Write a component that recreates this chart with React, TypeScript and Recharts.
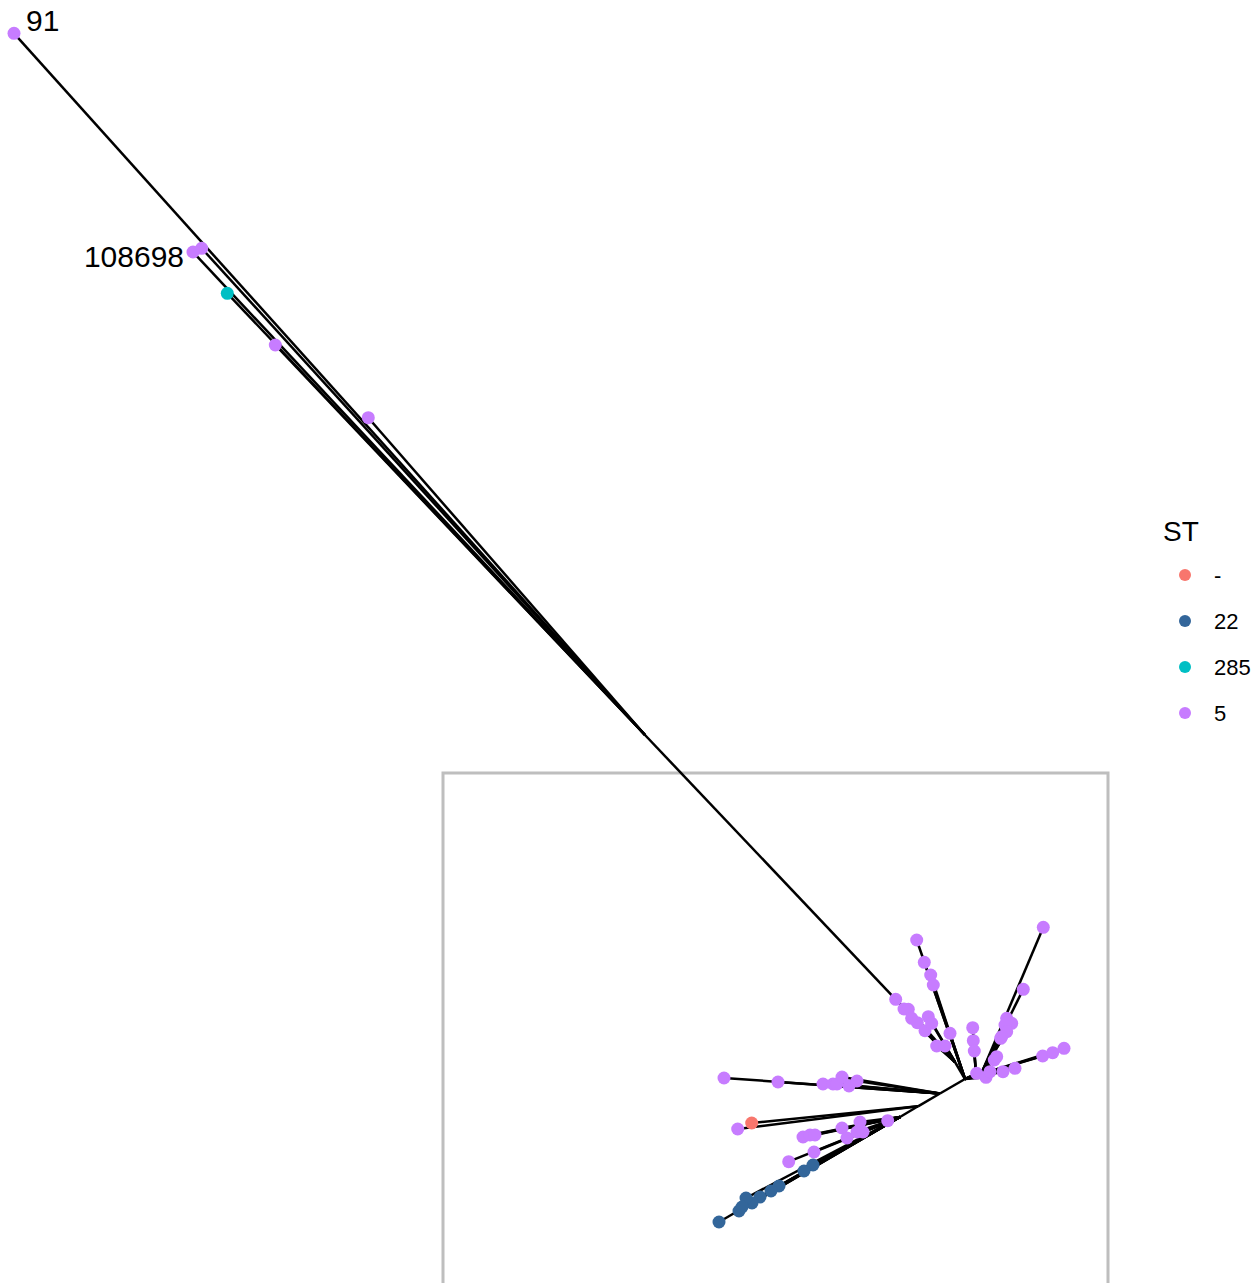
import React from 'react';
import { ScatterChart, Scatter, XAxis, YAxis, ReferenceArea, ReferenceLine, Legend } from 'recharts';

// tree layout coordinates (unrooted layout, y grows downward)
const internalNodes = [
  { id: 'H', x: 965, y: 1079 },
  { id: 'A', x: 645, y: 735 },
  { id: 'C', x: 955, y: 1062 },
  { id: 'V', x: 976, y: 1074 },
  { id: 'R1', x: 982, y: 1072 },
  { id: 'T1', x: 940, y: 1093.5 },
  { id: 'T2', x: 918, y: 1106.3 },
  { id: 'T3', x: 900, y: 1117 },
];

const internalEdges: [string, string][] = [
  ['H', 'C'], ['C', 'A'], ['H', 'V'], ['H', 'R1'], ['H', 'T1'], ['T1', 'T2'], ['T2', 'T3'],
];

type Tip = { x: number; y: number; st: string; parent: string; label?: string };

const farTips: Tip[] = [
  { x: 14, y: 33.3, st: '5', parent: 'A', label: '91' },
  { x: 193, y: 252, st: '5', parent: 'A', label: '108698' },
  { x: 201.7, y: 248.3, st: '5', parent: 'A' },
  { x: 227.3, y: 293.3, st: '285', parent: 'A' },
  { x: 275.3, y: 345, st: '5', parent: 'A' },
  { x: 368.3, y: 417.7, st: '5', parent: 'A' },
];

const clusterC: [number, number][] = [
  [895.7, 999.3], [904, 1009], [908.3, 1009.3], [911.7, 1018.3], [917.3, 1022.7],
  [925, 1030.7], [928.3, 1016.7], [931.7, 1023.3], [936.7, 1046], [945, 1046],
];
const upperH: [number, number][] = [[916.7, 940], [924.3, 962.3], [930.7, 975], [933.3, 985], [950, 1033.3]];
const clusterV: [number, number][] = [[972.7, 1027.7], [973.3, 1040.7], [974.3, 1051]];
const clusterR1: [number, number][] = [
  [1043.3, 927.3], [1023.3, 989.3], [1006.7, 1018.3], [1011.7, 1023.3], [1005, 1025],
  [1006.7, 1031.7], [1001.7, 1036.7], [1000.7, 1038.3], [994.3, 1060], [996.7, 1056.7],
];
const hubTips: [number, number][] = [
  [976.7, 1073.3], [986, 1077.3], [990, 1071.7], [1003, 1071.7], [1015, 1068.3],
  [1042.7, 1056], [1052.7, 1052.7], [1064, 1048.3],
];
const clusterT1: [number, number][] = [
  [724, 1078], [778, 1082], [823, 1084], [833, 1084], [837, 1084], [842, 1077], [849, 1086], [857, 1081],
];
const clusterT2: Tip[] = [
  { x: 737.7, y: 1129, st: '5', parent: 'T2' },
  { x: 751.7, y: 1123, st: '-', parent: 'T2' },
];
const clusterT3: [number, number][] = [
  [803, 1137], [810, 1135], [815, 1135], [842, 1128], [847, 1138], [860, 1122],
  [857, 1132], [863, 1132], [887.7, 1120.7], [814, 1152], [788.7, 1161.7],
];
const blueT3: [number, number][] = [
  [813, 1165], [804, 1171], [779, 1186], [771, 1191], [760, 1197], [752, 1203],
  [746, 1198], [739, 1211], [742, 1207], [719, 1222],
];

const ST_LEVELS = ['-', '22', '285', '5'];
const ST_COLORS: Record<string, string> = {
  '-': '#F8766D',
  '22': '#33669A',
  '285': '#00BFC4',
  '5': '#C77CFF',
};

const mk = (pts: [number, number][], st: string, parent: string): Tip[] =>
  pts.map(([x, y]) => ({ x, y, st, parent }));

const tips: Tip[] = [
  ...farTips,
  ...mk(clusterC, '5', 'C'),
  ...mk(upperH, '5', 'H'),
  ...mk(clusterV, '5', 'V'),
  ...mk(clusterR1, '5', 'R1'),
  ...mk(hubTips, '5', 'H'),
  ...mk(clusterT1, '5', 'T1'),
  ...clusterT2,
  ...mk(clusterT3, '5', 'T3'),
  ...mk(blueT3, '22', 'T3'),
];

const nodeById: Record<string, { x: number; y: number }> = {};
internalNodes.forEach(n => { nodeById[n.id] = n; });

const edges = [
  ...internalEdges.map(([a, b]) => [nodeById[a], nodeById[b]]),
  ...tips.map(t => [nodeById[t.parent], { x: t.x, y: t.y }]),
];

const labelOffsets: Record<string, { dx: number; dy: number; anchor: 'start' | 'end' }> = {
  '91': { dx: 12, dy: -2, anchor: 'start' },
  '108698': { dx: -9, dy: 15, anchor: 'end' },
};

const FONT = '"Liberation Sans", Arial, Helvetica, sans-serif';

const TipDot = (props: any) => {
  const { cx, cy, payload, color } = props;
  const lab = payload && payload.label;
  const off = lab ? labelOffsets[lab] : null;
  return (
    <g>
      <circle cx={cx} cy={cy} r={6.5} fill={color} />
      {off && (
        <text x={cx + off.dx} y={cy + off.dy} textAnchor={off.anchor} fontSize={30} fontFamily={FONT} fill="#000">
          {lab}
        </text>
      )}
    </g>
  );
};

const renderLegend = () => (
  <svg width={107} height={240} style={{ display: 'block' }}>
    <text x={13} y={41} fontSize={28} fontFamily={FONT} fill="#000">ST</text>
    {ST_LEVELS.map((s, i) => (
      <g key={s}>
        <circle cx={35} cy={75 + 46 * i} r={6} fill={ST_COLORS[s]} />
        <text x={64} y={75 + 46 * i + 8} fontSize={22} fontFamily={FONT} fill="#000">{s}</text>
      </g>
    ))}
  </svg>
);

const drawOrder = ['5', '285', '22', '-'];

export default function App() {
  return (
    <div style={{ position: 'absolute', left: 0, top: 0, width: 1257, height: 1283, background: '#fff' }}>
      <ScatterChart width={1257} height={1283} margin={{ top: 0, right: 0, bottom: 0, left: 0 }}>
        <XAxis type="number" dataKey="x" domain={[0, 1257]} hide />
        <YAxis type="number" dataKey="y" domain={[0, 1283]} reversed hide />
        <ReferenceArea
          x1={443}
          x2={1108}
          y1={773}
          y2={1300}
          ifOverflow="visible"
          fill="none"
          stroke="#BEBEBE"
          strokeWidth={3}
        />
        {edges.map((e, i) => (
          <ReferenceLine
            key={'e' + i}
            segment={[{ x: e[0].x, y: e[0].y }, { x: e[1].x, y: e[1].y }]}
            stroke="#000"
            strokeWidth={2.5}
            ifOverflow="visible"
          />
        ))}
        {drawOrder.map(s => (
          <Scatter
            key={'st' + s}
            name={s}
            data={tips.filter(t => t.st === s)}
            shape={(p: any) => <TipDot {...p} color={ST_COLORS[s]} />}
            isAnimationActive={false}
          />
        ))}
        <Legend
          layout="horizontal"
          align="center"
          verticalAlign="middle"
          content={renderLegend}
          wrapperStyle={{ left: 1150, top: 500, width: 107, height: 240 }}
        />
      </ScatterChart>
    </div>
  );
}
